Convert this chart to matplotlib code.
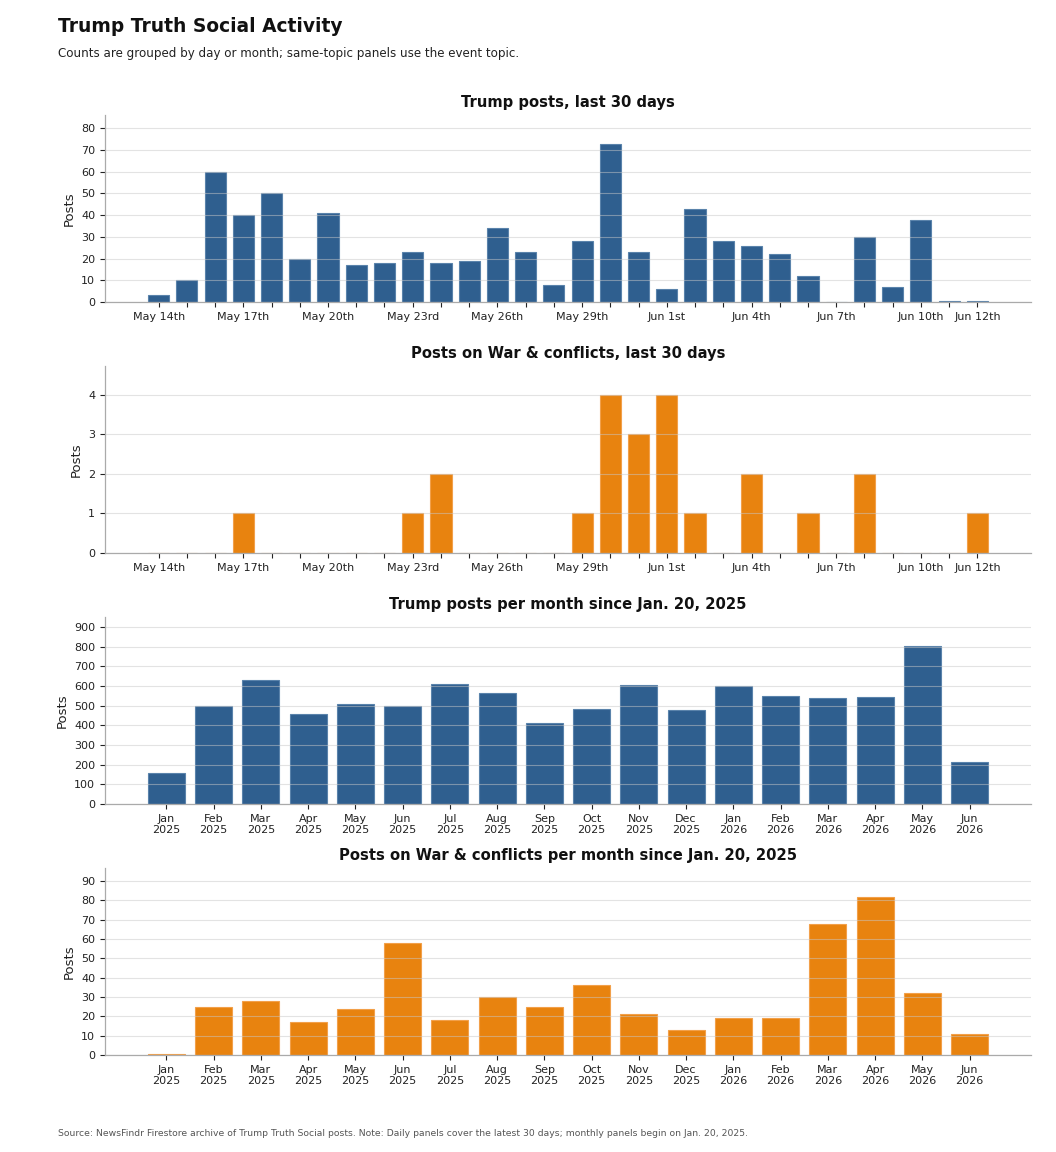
import matplotlib as mpl
mpl.use('Agg')

import datetime
import matplotlib.pyplot as plt
from matplotlib.ticker import MultipleLocator

# ---- data ----
day_start = datetime.date(2026, 5, 14)
n_days = 30

daily_posts = [3, 10, 60, 40, 50, 20, 41, 17, 18, 23, 18, 19, 34, 23, 8,
               28, 73, 23, 6, 43, 28, 26, 22, 12, 0, 30, 7, 38, 0.5, 0.5]
daily_war = [0, 0, 0, 1, 0, 0, 0, 0, 0, 1, 2, 0, 0, 0, 0,
             1, 4, 3, 4, 1, 0, 2, 0, 1, 0, 2, 0, 0, 0, 1]

months = ['Jan', 'Feb', 'Mar', 'Apr', 'May', 'Jun', 'Jul', 'Aug', 'Sep',
          'Oct', 'Nov', 'Dec', 'Jan', 'Feb', 'Mar', 'Apr', 'May', 'Jun']
month_years = [2025] * 12 + [2026] * 6
monthly_posts = [160, 500, 632, 460, 510, 500, 610, 565, 412, 481, 605, 476,
                 600, 550, 537, 545, 806, 212]
monthly_war = [0.5, 25, 28, 17, 24, 58, 18, 30, 25, 36, 21, 13,
               19, 19, 68, 82, 32, 11]

BLUE = '#2f5f8f'
BLUE_EDGE = '#5a83ab'
ORANGE = '#e8830f'
ORANGE_EDGE = '#f2a04a'


def suffix(d):
    if d in (11, 12, 13):
        return 'th'
    return {1: 'st', 2: 'nd', 3: 'rd'}.get(d % 10, 'th')


days = [day_start + datetime.timedelta(days=i) for i in range(n_days)]
day_labels = []
for i, d in enumerate(days):
    if i % 3 == 0 or i == n_days - 1:
        day_labels.append(d.strftime('%b ') + str(d.day) + suffix(d.day))
    else:
        day_labels.append('')
month_labels = [m + '\n' + str(y) for m, y in zip(months, month_years)]

W, H = 1056, 1152
fig = plt.figure(figsize=(W / 100, H / 100), dpi=100, facecolor='white')


def style_axis(ax, title, values, xlim, ystep):
    ax.set_title(title, fontsize=10.6, fontweight='bold', color='#111111', pad=6)
    ax.set_ylabel('Posts', fontsize=9.5, color='#222222')
    ax.set_ylim(0, max(values) * 1.18)
    ax.yaxis.set_major_locator(MultipleLocator(ystep))
    ax.set_xlim(*xlim)
    ax.grid(True, axis='y', color='#c8c8c8', alpha=0.5, linewidth=0.8, zorder=3)
    ax.set_axisbelow(False)
    for s in ['top', 'right']:
        ax.spines[s].set_visible(False)
    for s in ['left', 'bottom']:
        ax.spines[s].set_color('#aaaaaa')
        ax.spines[s].set_linewidth(0.9)
        ax.spines[s].set_zorder(4)
    ax.tick_params(axis='both', labelsize=8, colors='#222222', length=3.5, width=0.8)


def panel(top_px, values, labels, color, edge, width, title, xlim, ystep):
    left = 105 / W
    wd = 926 / W
    ht = 187 / H
    bottom = (H - top_px - 187) / H
    ax = fig.add_axes([left, bottom, wd, ht])
    x = list(range(len(values)))
    ax.bar(x, values, width=width, color=color, edgecolor=edge, linewidth=0.8, zorder=2)
    ax.set_xticks(x)
    ax.set_xticklabels(labels)
    style_axis(ax, title, values, xlim, ystep)
    return ax


panel(115, daily_posts, day_labels, BLUE, BLUE_EDGE, 0.75,
      'Trump posts, last 30 days', (-1.9, 30.9), 10)
panel(366, daily_war, day_labels, ORANGE, ORANGE_EDGE, 0.75,
      'Posts on War & conflicts, last 30 days', (-1.9, 30.9), 1)
panel(617, monthly_posts, month_labels, BLUE, BLUE_EDGE, 0.78,
      'Trump posts per month since Jan. 20, 2025', (-1.3, 18.3), 100)
panel(868, monthly_war, month_labels, ORANGE, ORANGE_EDGE, 0.78,
      'Posts on War & conflicts per month since Jan. 20, 2025', (-1.3, 18.3), 10)

fig.text(58 / W, 1 - 26 / H, 'Trump Truth Social Activity', fontsize=13.4,
         fontweight='bold', color='#111111', va='center', ha='left')
fig.text(58 / W, 1 - 54 / H,
         'Counts are grouped by day or month; same-topic panels use the event topic.',
         fontsize=8.6, color='#222222', va='center', ha='left')
fig.text(58 / W, 1 - 1133 / H,
         'Source: NewsFindr Firestore archive of Trump Truth Social posts. Note: Daily panels '
         'cover the latest 30 days; monthly panels begin on Jan. 20, 2025.',
         fontsize=6.7, color='#555555', va='center', ha='left')

fig.savefig('out.png', dpi=100, facecolor='white')
